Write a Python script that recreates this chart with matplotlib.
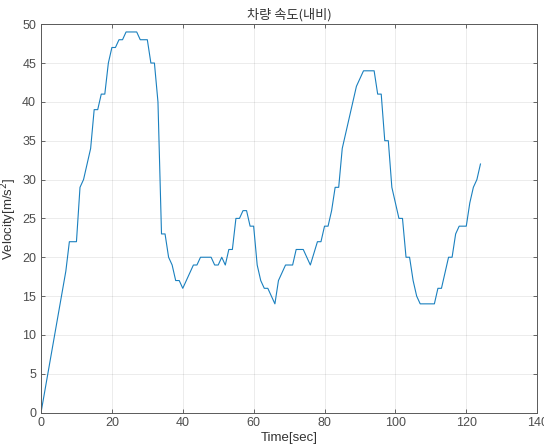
import matplotlib.pyplot as plt
import numpy as np

plt.rcParams['font.family'] = ['Liberation Sans', 'Noto Sans CJK KR', 'DejaVu Sans']

# vehicle speed from navigation, one sample per second
time = np.arange(0, 125)
speed = [0, 2.6, 5.2, 7.8, 10.4, 13, 15.6, 18.2, 22, 22,
         22, 29, 30, 32, 34, 39, 39, 41, 41, 45,
         47, 47, 48, 48, 49, 49, 49, 49, 48, 48,
         48, 45, 45, 40, 23, 23, 20, 19, 17, 17,
         16, 17, 18, 19, 19, 20, 20, 20, 20, 19,
         19, 20, 19, 21, 21, 25, 25, 26, 26, 24,
         24, 19, 17, 16, 16, 15, 14, 17, 18, 19,
         19, 19, 21, 21, 21, 20, 19, 20.5, 22, 22,
         24, 24, 26, 29, 29, 34, 36, 38, 40, 42,
         43, 44, 44, 44, 44, 41, 41, 35, 35, 29,
         27, 25, 25, 20, 20, 17, 15, 14, 14, 14,
         14, 14, 16, 16, 18, 20, 20, 23, 24, 24,
         24, 27, 29, 30, 32]

xticks = [0, 20, 40, 60, 80, 100, 120, 140]
yticks = [0, 5, 10, 15, 20, 25, 30, 35, 40, 45, 50]

fig = plt.figure(figsize=(5.44, 4.48), dpi=100)
ax = fig.add_axes([0.0754, 0.079, 0.912, 0.867])

ax.plot(time, speed, color=(0.1, 0.5, 0.75), linewidth=0.8)

ax.set_xlim(0, 140)
ax.set_ylim(0, 50)
ax.set_xticks(xticks)
ax.set_yticks(yticks)
ax.grid(True, color=(0.15, 0.15, 0.15), alpha=0.1, linewidth=0.6)
ax.tick_params(direction='in', length=3, width=0.6, labelsize=9,
               colors=(0.3, 0.3, 0.3), top=True, right=True)
for s in ax.spines.values():
    s.set_color((0.35, 0.35, 0.35))
    s.set_linewidth(0.7)

ax.set_xlabel('Time[sec]', fontsize=9.5, color=(0.2, 0.2, 0.2), labelpad=2)
ax.set_ylabel('Velocity[m/s$^2$]', fontsize=9.5, color=(0.2, 0.2, 0.2), labelpad=2)
ax.set_title('차량 속도(내비)', fontsize=9.5, color=(0.2, 0.2, 0.2),
             family=['Noto Sans CJK KR', 'DejaVu Sans'], pad=4)

fig.savefig('out.png', dpi=100)
